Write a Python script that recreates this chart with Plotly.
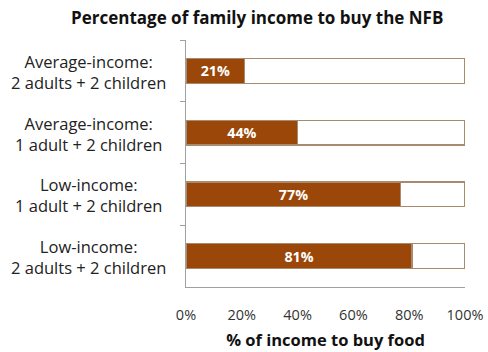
import plotly.graph_objects as go

categories = [
    "Average-income:<br>2 adults + 2 children",
    "Average-income:<br>1 adult + 2 children",
    "Low-income:<br>1 adult + 2 children",
    "Low-income:<br>2 adults + 2 children",
]
bar_values = [21, 40, 77, 81]
bar_labels = ["21%", "44%", "77%", "81%"]
remainder = [100 - v for v in bar_values]
x_ticks = [0, 20, 40, 60, 80, 100]
x_tick_labels = ["0%", "20%", "40%", "60%", "80%", "100%"]

BROWN = "#9A4709"
EDGE = "#A88B6C"
FONT = "Open Sans"

fig = go.Figure()
fig.add_trace(go.Bar(
    y=categories, x=bar_values, orientation="h",
    marker=dict(color=BROWN, line=dict(color=EDGE, width=1.2)),
    text=bar_labels, textposition="inside", insidetextanchor="middle",
    textfont=dict(family=FONT, size=14.5, color="white", weight="bold"),
    hoverinfo="skip", showlegend=False,
))
fig.add_trace(go.Bar(
    y=categories, x=remainder, orientation="h",
    marker=dict(color="white", line=dict(color=EDGE, width=1.2)),
    hoverinfo="skip", showlegend=False,
))

for c in categories:
    fig.add_annotation(
        x=-0.348, xref="paper", y=c, yref="y", yshift=-1, text=c,
        showarrow=False, xanchor="center", yanchor="middle", align="center",
        font=dict(family=FONT, size=16.5, color="#222222"),
    )

fig.update_layout(
    barmode="stack",
    bargap=0.6,
    width=488, height=352,
    margin=dict(l=186, r=23, t=40, b=65, autoexpand=False),
    paper_bgcolor="white", plot_bgcolor="white",
    title=dict(text="<b>Percentage of family income to buy the NFB</b>",
               x=0.527, xref="container", xanchor="center", y=0.95, yanchor="middle",
               font=dict(family=FONT, size=17, color="#111111")),
    xaxis=dict(range=[0, 100], tickvals=x_ticks, ticktext=x_tick_labels,
               automargin=False,
               showgrid=False, zeroline=False, showline=True,
               linecolor="#A0A0A0", linewidth=1.2, ticks="",
               ticklabelstandoff=14,
               tickfont=dict(family=FONT, size=14.5, color="#333333"),
               title=dict(text="<b>% of income to buy food</b>", standoff=11,
                          font=dict(family=FONT, size=16.5, color="#111111"))),
    yaxis=dict(autorange="reversed", showticklabels=False, showgrid=False,
               automargin=False,
               zeroline=False, showline=True, linecolor="#A0A0A0", linewidth=1.2,
               ticks="outside", tickson="boundaries", ticklen=5,
               tickcolor="#A0A0A0", tickwidth=1.2),
)

fig.write_html("out.html")
